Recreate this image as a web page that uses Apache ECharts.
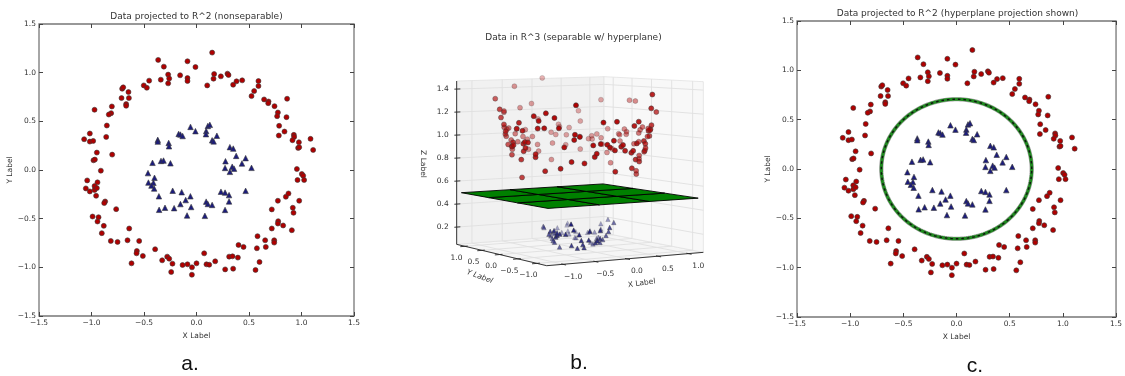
<!DOCTYPE html>
<html><head><meta charset="utf-8">
<script src="https://cdn.jsdelivr.net/npm/echarts@6/dist/echarts.min.js"></script>
<style>html,body{margin:0;padding:0;background:#fff}#c{width:1125px;height:376px}</style>
</head><body><div id="c"></div>
<script>
// ---------------- data ----------------
const redX = [0.149,-0.365,-0.086,-0.311,-0.010,-0.27,-0.26,-0.27,-0.340,-0.156,-0.086,-0.086,-0.451,-0.502,-0.473,0.102,0.162,0.168,0.232,0.295,0.305,0.349,0.381,0.435,0.590,0.590,0.549,0.524,-0.708,-0.698,-0.648,-0.644,-0.714,-0.670,-0.670,-0.806,-0.813,-0.835,-0.971,-0.854,-0.860,-1.016,-1.070,-1.016,-0.984,-0.949,-0.981,-0.968,-0.803,-0.911,-1.041,-1.054,-1.016,-0.943,-0.971,-0.971,-0.949,-0.956,-0.870,-0.879,-0.765,-0.990,-0.933,-0.943,-0.883,-0.902,-0.641,-0.816,-0.752,-0.657,-0.546,-0.568,-0.571,-0.511,-0.619,-0.394,-0.327,-0.279,-0.260,-0.229,-0.241,-0.133,-0.086,-0.043,-0.044,0.000,0.073,0.095,0.121,0.178,0.273,0.311,0.343,0.349,0.394,0.400,0.448,0.562,0.600,0.575,0.581,0.654,0.660,0.717,0.740,0.740,0.717,0.775,0.778,0.775,0.825,0.851,0.876,0.908,0.917,0.924,0.978,0.956,0.962,1.003,1.016,1.025,1.111,1.086,0.968,0.978,0.975,0.927,0.930,0.914,0.863,0.838,0.784,0.787,0.857,0.775,0.768,0.743,0.686,0.683,0.644];
const redY = [1.206,1.131,1.117,1.062,1.058,0.98,0.94,0.89,0.928,0.973,0.945,0.914,0.918,0.869,0.845,0.869,0.938,0.986,0.962,0.990,0.976,0.876,0.911,0.921,0.914,0.863,0.811,0.759,0.835,0.849,0.801,0.739,0.739,0.677,0.660,0.653,0.584,0.570,0.619,0.457,0.340,0.375,0.316,0.292,0.299,0.179,0.100,0.107,0.158,-0.007,-0.107,-0.189,-0.220,-0.127,-0.165,-0.206,-0.186,-0.265,-0.323,-0.340,-0.402,-0.478,-0.485,-0.529,-0.574,-0.649,-0.601,-0.729,-0.739,-0.722,-0.729,-0.832,-0.856,-0.883,-0.959,-0.814,-0.928,-0.890,-0.911,-0.962,-1.048,-0.976,-0.969,-1.000,-1.076,-0.959,-0.856,-0.969,-0.973,-0.938,-1.021,-0.890,-0.887,-1.014,-0.900,-0.770,-0.790,-1.027,-0.945,-0.804,-0.680,-0.722,-0.790,-0.601,-0.722,-0.746,-0.405,-0.316,-0.526,-0.550,-0.570,-0.275,-0.241,-0.619,-0.388,-0.440,-0.316,0.010,-0.103,-0.041,-0.058,-0.103,0.206,0.320,0.227,0.234,0.285,0.361,0.340,0.306,0.732,0.395,0.354,0.454,0.543,0.591,0.553,0.656,0.704,0.687,0.725];
const blueX = [-0.057,-0.010,0.108,0.127,0.092,0.090,0.194,0.149,0.163,-0.170,-0.153,-0.132,-0.369,-0.369,-0.265,-0.262,0.318,0.350,0.378,0.468,0.276,0.433,0.340,0.358,0.272,0.318,0.524,0.468,0.233,0.272,0.310,0.310,0.272,-0.419,-0.338,-0.314,-0.248,-0.462,-0.400,-0.458,-0.410,-0.429,-0.403,-0.358,-0.227,-0.141,-0.058,-0.103,-0.153,-0.051,-0.213,-0.300,-0.356,-0.090,0.092,0.108,0.149,0.080];
const blueY = [0.443,0.399,0.452,0.464,0.400,0.368,0.352,0.305,0.294,0.371,0.364,0.349,0.310,0.292,0.278,0.244,0.235,0.220,0.145,0.122,0.090,0.067,0.034,0.014,0.021,-0.019,0.022,-0.214,-0.223,-0.232,-0.258,-0.323,-0.410,0.074,0.093,0.097,0.069,-0.032,-0.080,-0.129,-0.131,-0.160,-0.190,-0.270,-0.213,-0.228,-0.270,-0.309,-0.350,-0.380,-0.392,-0.388,-0.409,-0.467,-0.325,-0.349,-0.359,-0.471];

// tick values
const ticks2D = [-1.5,-1.0,-0.5,0.0,0.5,1.0,1.5];
const ticks3DX = [-1.0,-0.5,0.0,0.5,1.0];
const ticks3DY = [-1.0,-0.5,0.0,0.5,1.0];
const ticks3DZ = [0.2,0.4,0.6,0.8,1.0,1.2,1.4];

// texts
const titleA = 'Data projected to R^2 (nonseparable)';
const titleB = 'Data in R^3 (separable w/ hyperplane)';
const titleC = 'Data projected to R^2 (hyperplane projection shown)';
const captions = ['a.', 'b.', 'c.'];

// lifting map phi(x,y) = x^2 + y^2 and the separating hyperplane z = 0.5
const hyperplaneZ = 0.5;
const hyperplaneRadius = Math.sqrt(hyperplaneZ);
const planeExtent = [-1.2, 1.2];
const planeDivs = 3;
const redZ = redX.map((x, i) => x * x + redY[i] * redY[i]);
const blueZ = blueX.map((x, i) => x * x + blueY[i] * blueY[i]);

// ---------------- 3D view (layout) ----------------
const box3 = { x: [-1.25, 1.25], y: [-1.25, 1.25], z: [0.05, 1.47] };
const cam = { ox: 546.7, oy: 265.7, ux: 191.1, uy: -1.0, vx: -46.2, vy: 2.1, wy: -179, du: 0.049, dv: 0.096 };
function norm3(x, y, z) {
  return [(x - box3.x[0]) / (box3.x[1] - box3.x[0]), (y - box3.y[0]) / (box3.y[1] - box3.y[0]), (z - box3.z[0]) / (box3.z[1] - box3.z[0])];
}
function proj(x, y, z) {
  const [u, v, w] = norm3(x, y, z);
  const d = 1 + cam.du * u + cam.dv * v;
  return [(cam.ox + cam.ux * u + cam.vx * v) / d, (cam.oy + cam.uy * u + cam.vy * v + cam.wy * w) / d];
}
function depth(x, y) { const [u, v] = norm3(x, y, 0); return cam.du * u + cam.dv * v; }
function shaded(xs, ys, zs) {
  const ds = xs.map((x, i) => depth(x, ys[i]));
  const mn = Math.min(...ds), mx = Math.max(...ds);
  return xs.map((x, i) => ({ value: proj(x, ys[i], zs[i]), itemStyle: { opacity: 1 - 0.7 * (ds[i] - mn) / (mx - mn) } }));
}

// ---------------- styles ----------------
const FONT = '"DejaVu Sans", sans-serif';
const RED = '#b00000', BLUE = '#1c1c7c', EDGE = '#3a3a3a', TXT = '#333';
const fmt = v => (v < 0 ? '\u2212' : '') + Math.abs(v).toFixed(1);

function xAx(grid, pos, show, name, gap) {
  return {
    type: 'value', gridIndex: grid, position: pos, min: ticks2D[0], max: ticks2D[ticks2D.length - 1],
    interval: ticks2D[1] - ticks2D[0],
    axisLine: { show: false, onZero: false }, splitLine: { show: false },
    axisTick: { show: true, inside: true, length: 4, lineStyle: { color: '#444', width: 1 } },
    axisLabel: { show: show, formatter: fmt, fontSize: 7.5, fontFamily: FONT, color: TXT, margin: 3 },
    name: name || '', nameLocation: 'middle', nameGap: gap || 0,
    nameTextStyle: { fontSize: 7.5, fontFamily: FONT, color: TXT }
  };
}
function yAx(grid, pos, show, name, gap) {
  const a = xAx(grid, pos, show, name, gap);
  a.nameRotate = 90;
  a.axisLabel.margin = 3;
  return a;
}

const gridA = { left: 39, top: 24, width: 315, height: 292, show: true, borderColor: '#777', borderWidth: 1.3, backgroundColor: '#fff' };
const gridC = { left: 797, top: 21, width: 321, height: 296, show: true, borderColor: '#777', borderWidth: 1.3, backgroundColor: '#fff' };
const gridB = { left: 0, top: 0, width: 1125, height: 376, show: false };

function scat(xi, yi, xs, ys, sym, size, color) {
  return {
    type: 'scatter', xAxisIndex: xi, yAxisIndex: yi, symbol: sym, symbolSize: size, z: 3,
    data: xs.map((x, i) => [x, ys[i]]),
    itemStyle: { color: color, borderColor: EDGE, borderWidth: 0.6, opacity: 1 },
    silent: true, animation: false
  };
}

const chart = echarts.init(document.getElementById('c'), null, { renderer: 'canvas' });

const option = {
  animation: false,
  backgroundColor: '#fff',
  grid: [gridA, gridC, gridB],
  xAxis: [
    xAx(0, 'bottom', true, 'X Label', 10), xAx(0, 'top', false),
    xAx(1, 'bottom', true, 'X Label', 11), xAx(1, 'top', false),
    { type: 'value', gridIndex: 2, min: 0, max: 1125, show: false }
  ],
  yAxis: [
    yAx(0, 'left', true, 'Y Label', 22), yAx(0, 'right', false),
    yAx(1, 'left', true, 'Y Label', 23), yAx(1, 'right', false),
    { type: 'value', gridIndex: 2, min: 0, max: 376, inverse: true, show: false }
  ],
  graphic: [
    { type: 'text', x: 196.5, y: 17, style: { text: titleA, align: 'center', verticalAlign: 'middle', font: '9px ' + FONT, fill: TXT } },
    { type: 'text', x: 573.5, y: 37.7, style: { text: titleB, align: 'center', verticalAlign: 'middle', font: '9px ' + FONT, fill: TXT } },
    { type: 'text', x: 957.5, y: 14, style: { text: titleC, align: 'center', verticalAlign: 'middle', font: '9px ' + FONT, fill: TXT } },
    { type: 'text', x: 190, y: 364, style: { text: captions[0], align: 'center', verticalAlign: 'middle', font: '21px "Liberation Sans", sans-serif', fill: '#111' } },
    { type: 'text', x: 579, y: 363, style: { text: captions[1], align: 'center', verticalAlign: 'middle', font: '21px "Liberation Sans", sans-serif', fill: '#111' } },
    { type: 'text', x: 975, y: 366, style: { text: captions[2], align: 'center', verticalAlign: 'middle', font: '21px "Liberation Sans", sans-serif', fill: '#111' } },
    { type: 'text', x: 423.3, y: 164, rotation: -Math.PI / 2, style: { text: 'Z Label', align: 'center', verticalAlign: 'middle', font: '7.5px ' + FONT, fill: TXT } },
    { type: 'text', x: 479.7, y: 276.7, rotation: -0.36, style: { text: 'Y Label', align: 'center', verticalAlign: 'middle', font: 'italic 7.5px ' + FONT, fill: TXT } },
    { type: 'text', x: 641.7, y: 283.3, rotation: 0.14, style: { text: 'X Label', align: 'center', verticalAlign: 'middle', font: '7.5px ' + FONT, fill: TXT } }
  ],
  series: [
    // panel a
    scat(0, 0, redX, redY, 'circle', 5, RED),
    scat(0, 0, blueX, blueY, 'triangle', 5.5, BLUE),
    // panel c
    scat(2, 2, redX, redY, 'circle', 5, RED),
    scat(2, 2, blueX, blueY, 'triangle', 5.5, BLUE),
    {
      type: 'custom', xAxisIndex: 2, yAxisIndex: 2, data: [[0, 0]], z: 4, silent: true, clip: false,
      renderItem: (p, api) => {
        const pts = [];
        for (let i = 0; i <= 240; i++) {
          const t = i / 240 * 2 * Math.PI;
          pts.push(api.coord([hyperplaneRadius * Math.cos(t), hyperplaneRadius * Math.sin(t)]));
        }
        return { type: 'group', children: [
          { type: 'polyline', shape: { points: pts }, style: { stroke: '#a0a0a0', lineWidth: 4.2, fill: null } },
          { type: 'polyline', shape: { points: pts }, style: { stroke: '#1f8a1f', lineWidth: 3.0, fill: null } },
          { type: 'polyline', shape: { points: pts }, style: { stroke: '#111', lineWidth: 1.4, lineDash: [2.5, 3], fill: null } }
        ] };
      }
    },
    // panel b : panes + grid lines
    {
      type: 'custom', xAxisIndex: 4, yAxisIndex: 4, data: [[0, 0]], z: 1, silent: true, clip: false,
      renderItem: (p, api) => {
        const P = (x, y, z) => api.coord(proj(x, y, z));
        const [x0, x1] = box3.x, [y0, y1] = box3.y, [z0, z1] = box3.z;
        const ch = [];
        const poly = (pts, fill) => ch.push({ type: 'polygon', shape: { points: pts }, style: { fill: fill, stroke: '#e2e2e2', lineWidth: 0.8 } });
        const line = (a, b, c) => ch.push({ type: 'line', shape: { x1: a[0], y1: a[1], x2: b[0], y2: b[1] }, style: { stroke: c || '#e0e0e0', lineWidth: 0.9 } });
        poly([P(x0, y0, z0), P(x1, y0, z0), P(x1, y1, z0), P(x0, y1, z0)], '#f5f5f5');
        poly([P(x0, y1, z0), P(x1, y1, z0), P(x1, y1, z1), P(x0, y1, z1)], '#f1f1f1');
        poly([P(x1, y0, z0), P(x1, y1, z0), P(x1, y1, z1), P(x1, y0, z1)], '#f8f8f8');
        ticks3DX.forEach(t => { line(P(t, y0, z0), P(t, y1, z0)); line(P(t, y1, z0), P(t, y1, z1)); });
        ticks3DY.forEach(t => { line(P(x0, t, z0), P(x1, t, z0)); line(P(x1, t, z0), P(x1, t, z1)); });
        ticks3DZ.forEach(t => { line(P(x0, y1, t), P(x1, y1, t)); line(P(x1, y1, t), P(x1, y0, t)); });
        return { type: 'group', children: ch };
      }
    },
    // panel b : hyperplane
    {
      type: 'custom', xAxisIndex: 4, yAxisIndex: 4, data: [[0, 0]], z: 2, silent: true, clip: false,
      renderItem: (p, api) => {
        const P = (x, y) => api.coord(proj(x, y, hyperplaneZ));
        const [a, b] = planeExtent, s = (b - a) / planeDivs;
        const ch = [];
        for (let i = 0; i < planeDivs; i++) for (let j = 0; j < planeDivs; j++) {
          const xa = a + i * s, ya = a + j * s;
          ch.push({ type: 'polygon', shape: { points: [P(xa, ya), P(xa + s, ya), P(xa + s, ya + s), P(xa, ya + s)] },
            style: { fill: '#008000', stroke: '#000', lineWidth: 0.9 } });
        }
        return { type: 'group', children: ch };
      }
    },
    // panel b : points
    {
      type: 'scatter', xAxisIndex: 4, yAxisIndex: 4, symbol: 'circle', symbolSize: 5, z: 3, silent: true,
      data: shaded(redX, redY, redZ), itemStyle: { color: RED, borderColor: EDGE, borderWidth: 0.6 }
    },
    {
      type: 'scatter', xAxisIndex: 4, yAxisIndex: 4, symbol: 'triangle', symbolSize: 4.5, z: 3, silent: true,
      data: shaded(blueX, blueY, blueZ), itemStyle: { color: BLUE, borderColor: EDGE, borderWidth: 0.5 }
    },
    // panel b : axes, ticks, tick labels
    {
      type: 'custom', xAxisIndex: 4, yAxisIndex: 4, data: [[0, 0]], z: 5, silent: true, clip: false,
      renderItem: (p, api) => {
        const P = (x, y, z) => api.coord(proj(x, y, z));
        const [x0, x1] = box3.x, [y0, y1] = box3.y, [z0, z1] = box3.z;
        const ch = [];
        const line = (a, b, w) => ch.push({ type: 'line', shape: { x1: a[0], y1: a[1], x2: b[0], y2: b[1] }, style: { stroke: '#222', lineWidth: w || 0.9 } });
        const text = (pt, s, al) => ch.push({ type: 'text', x: pt[0], y: pt[1], style: { text: s, align: al || 'center', verticalAlign: 'middle', font: '7.5px ' + FONT, fill: TXT } });
        line(P(x0, y0, z0), P(x1, y0, z0));
        line(P(x0, y0, z0), P(x0, y1, z0));
        line(P(x0, y1, z0), P(x0, y1, z1));
        const dx = 0.03 * (x1 - x0), dy = 0.03 * (y1 - y0);
        ticks3DX.forEach(t => { const a = P(t, y0, z0); line(a, P(t, y0 - dy, z0)); line(a, P(t, y0 + dy * 0.6, z0)); text([a[0] + 10, a[1] + 12.5], fmt(t)); });
        ticks3DY.forEach(t => { const a = P(x0, t, z0); line(a, P(x0 - dx, t, z0)); line(a, P(x0 + dx * 0.6, t, z0)); text([a[0] - 8.5, a[1] + 12], fmt(t)); });
        ticks3DZ.forEach(t => { const a = P(x0, y1, t); line(a, P(x0 + dx * 0.8, y1, t)); line(a, P(x0 - dx * 0.5, y1, t)); text([a[0] - 8, a[1]], fmt(t), 'right'); });
        return { type: 'group', children: ch };
      }
    }
  ]
};
chart.setOption(option);
</script>
</body></html>
